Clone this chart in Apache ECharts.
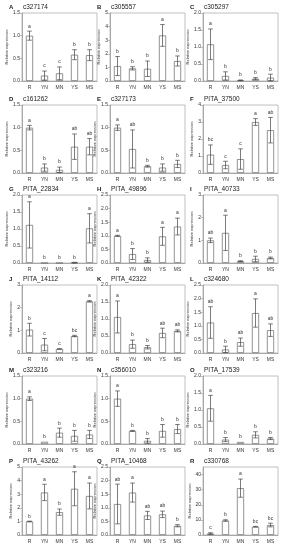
<!DOCTYPE html>
<html><head><meta charset="utf-8">
<script src="https://cdn.jsdelivr.net/npm/echarts@6/dist/echarts.min.js"></script>
<style>html,body{margin:0;padding:0;background:#fff}#c{width:289px;height:550px}</style>
</head><body><div id="c"></div>
<script>
const categories = ['R', 'YN', 'MN', 'YS', 'MS'];
const panelLetters = ['A','B','C','D','E','F','G','H','I','J','K','L','M','N','O','P','Q','R'];
const panelTitles = ['c327174','c305557','c305297','c161262','c327173','PITA_37500','PITA_22834','PITA_49896','PITA_40733','PITA_14112','PITA_42322','c324680','c323216','c356010','PITA_17539','PITA_43262','PITA_10468','c330768'];
const yMax  = [1.5, 5, 2, 1.5, 1.5, 4, 2, 2.5, 3, 3, 2, 2.5, 1.5, 1.5, 2, 5, 2.5, 45];
const yStep = [0.5, 1, 0.5, 0.5, 0.5, 1, 0.5, 0.5, 1, 1, 0.5, 0.5, 0.5, 0.5, 0.5, 1, 0.5, 10];
const means = [
  [1.0, 0.12, 0.17, 0.58, 0.57],
  [1.1, 0.93, 0.9, 3.35, 1.47],
  [1.08, 0.15, 0.02, 0.07, 0.1],
  [1.0, 0.12, 0.07, 0.58, 0.58],
  [1.0, 0.53, 0.15, 0.12, 0.2],
  [1.08, 0.47, 0.82, 3.0, 2.52],
  [1.12, 0.0, 0.0, 0.01, 1.02],
  [1.0, 0.33, 0.11, 0.98, 1.34],
  [1.0, 1.33, 0.08, 0.18, 0.22],
  [1.03, 0.37, 0.18, 0.75, 2.28],
  [1.06, 0.26, 0.17, 0.59, 0.65],
  [1.12, 0.13, 0.4, 1.47, 0.84],
  [1.0, 0.05, 0.25, 0.18, 0.21],
  [1.0, 0.29, 0.07, 0.29, 0.33],
  [1.05, 0.13, 0.06, 0.27, 0.16],
  [1.0, 3.13, 1.68, 3.4, 2.87],
  [1.14, 1.56, 0.72, 0.76, 0.34],
  [1.0, 9.6, 31.0, 5.5, 6.6]
];
const errors = [
  [0.1, 0.1, 0.14, 0.11, 0.12],
  [0.7, 0.12, 0.57, 0.8, 0.37],
  [0.45, 0.12, 0.01, 0.03, 0.1],
  [0.05, 0.08, 0.06, 0.28, 0.18],
  [0.06, 0.42, 0.02, 0.08, 0.08],
  [0.57, 0.22, 0.6, 0.2, 0.75],
  [0.68, 0.0, 0.0, 0.01, 0.43],
  [0.02, 0.2, 0.08, 0.33, 0.31],
  [0.1, 0.78, 0.02, 0.12, 0.04],
  [0.28, 0.27, 0.01, 0.03, 0.03],
  [0.47, 0.12, 0.05, 0.14, 0.03],
  [0.58, 0.12, 0.15, 0.52, 0.23],
  [0.04, 0.0, 0.1, 0.12, 0.09],
  [0.17, 0.01, 0.05, 0.14, 0.1],
  [0.38, 0.06, 0.0, 0.09, 0.03],
  [0.02, 0.6, 0.23, 1.25, 0.95],
  [0.73, 0.35, 0.15, 0.12, 0.04],
  [0.5, 0.5, 6.0, 0.2, 1.2]
];
const groupLetters = [
  ['a','c','c','b','b'],
  ['b','b','b','a','b'],
  ['a','b','b','b','b'],
  ['a','b','b','ab','ab'],
  ['a','ab','b','b','b'],
  ['bc','c','c','a','ab'],
  ['a','b','b','b','a'],
  ['a','b','b','a','a'],
  ['ab','a','b','b','b'],
  ['b','c','c','bc','a'],
  ['a','b','b','ab','ab'],
  ['ab','b','ab','a','ab'],
  ['a','b','b','b','b'],
  ['a','b','b','b','b'],
  ['a','b','b','b','b'],
  ['b','a','b','a','a'],
  ['ab','a','ab','ab','b'],
  ['c','b','a','bc','bc']
];

const FONT = 'Liberation Sans, Arial, sans-serif';
const colLeft = [22, 110, 203];
const rowTop = [13, 105, 195, 285, 376, 467];
const W = 75, H = 68;

const chart = echarts.init(document.getElementById('c'), null, {renderer: 'canvas'});
const grids = [], xAxes = [], yAxes = [], series = [], titles = [];

for (let p = 0; p < 18; p++) {
  const col = p % 3, row = Math.floor(p / 3);
  const L = colLeft[col], T = rowTop[row];
  grids.push({left: L, top: T, width: W, height: H, show: true, borderColor: '#b0b0b0', borderWidth: 0.8, backgroundColor: 'transparent'});
  xAxes.push({
    type: 'category', gridIndex: p, data: categories,
    axisLine: {lineStyle: {color: '#999', width: 0.8}},
    axisTick: {alignWithLabel: true, length: 2, lineStyle: {color: '#999', width: 0.6}},
    axisLabel: {fontSize: 5, color: '#333', margin: 4, fontFamily: FONT}
  });
  const dec = yStep[p] < 1 ? 1 : 0;
  const maxLabLen = yMax[p].toFixed(dec).length;
  yAxes.push({
    type: 'value', gridIndex: p, min: 0, max: yMax[p], interval: yStep[p],
    name: 'Relative expression', nameLocation: 'middle', nameGap: 4 + maxLabLen * 2.2,
    nameTextStyle: {fontSize: 4, color: '#333', fontFamily: FONT},
    axisLine: {show: true, lineStyle: {color: '#999', width: 0.8}},
    axisTick: {show: true, length: 2, lineStyle: {color: '#999', width: 0.6}},
    splitLine: {show: false},
    axisLabel: {fontSize: 5, color: '#333', margin: 2, fontFamily: FONT,
      showMaxLabel: (yMax[p] / yStep[p]) % 1 === 0,
      formatter: v => v.toFixed(dec)}
  });
  series.push({
    type: 'bar', xAxisIndex: p, yAxisIndex: p, data: means[p], barWidth: '48%',
    itemStyle: {color: '#fff', borderColor: '#777', borderWidth: 0.8},
    silent: true, animation: false
  });
  const pd = means[p].map((m, i) => [i, m, errors[p][i]]);
  series.push({
    type: 'custom', xAxisIndex: p, yAxisIndex: p, data: pd, animation: false, silent: true, z: 5,
    renderItem: (function (pi) {
      return function (params, api) {
        const i = api.value(0), m = api.value(1), e = api.value(2);
        const top = api.coord([i, m + e]);
        const bot = api.coord([i, Math.max(m - e, 0)]);
        const cap = 2.3;
        const st = {stroke: '#444', lineWidth: 0.7};
        const ch = [];
        if (e > 0) {
          ch.push({type: 'line', shape: {x1: top[0], y1: top[1], x2: bot[0], y2: bot[1]}, style: st});
          ch.push({type: 'line', shape: {x1: top[0] - cap, y1: top[1], x2: top[0] + cap, y2: top[1]}, style: st});
          ch.push({type: 'line', shape: {x1: bot[0] - cap, y1: bot[1], x2: bot[0] + cap, y2: bot[1]}, style: st});
        }
        ch.push({type: 'text', style: {text: groupLetters[pi][params.dataIndex], x: top[0], y: top[1] - 2.5,
          align: 'center', verticalAlign: 'bottom', textAlign: 'center', textVerticalAlign: 'bottom',
          fontSize: 5, fill: '#333', fontFamily: FONT}});
        return {type: 'group', children: ch};
      };
    })(p)
  });
  titles.push({text: panelLetters[p], left: L - 13, top: T - 8.5, padding: 0,
    textStyle: {fontSize: 6, fontWeight: 'bold', color: '#222', fontFamily: FONT}});
  titles.push({text: panelTitles[p], left: L + 1, top: T - 9, padding: 0,
    textStyle: {fontSize: 6.5, fontWeight: 'normal', color: '#222', fontFamily: FONT}});
}

chart.setOption({
  animation: false,
  backgroundColor: '#fff',
  title: titles,
  grid: grids,
  xAxis: xAxes,
  yAxis: yAxes,
  series: series
});
</script>
</body></html>
